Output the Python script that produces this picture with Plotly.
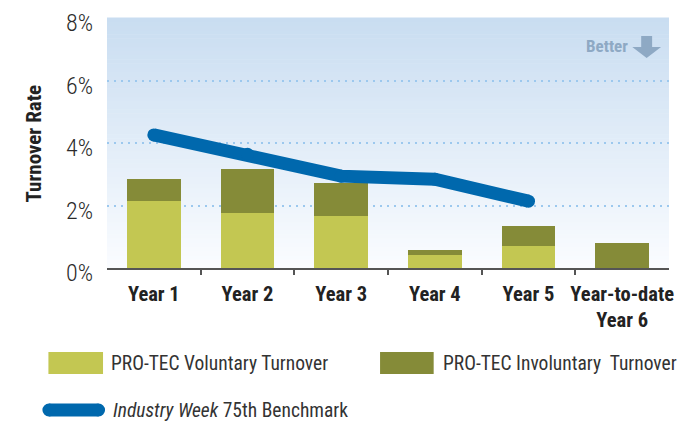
import plotly.graph_objects as go

categories = ["Year 1", "Year 2", "Year 3", "Year 4", "Year 5", "Year-to-date<br>Year 6"]
voluntary = [2.16, 1.75, 1.65, 0.43, 0.69, 0.0]
involuntary = [0.68, 1.41, 1.06, 0.16, 0.67, 0.79]
benchmark = [4.26, 3.64, 2.94, 2.84, 2.14]
y_ticks = [0, 2, 4, 6, 8]
y_tick_labels = ["0%", "2%", "4%", "6%", "8%"]
grid_vals = [2, 4, 6]

W, H = 686, 422
L, R, T, B = 107, 13, 18, 154
PW, PH = W - L - R, H - T - B


def xp(px):
    return (px - L) / PW


def yp(py):
    return (H - B - py) / PH


FONT = "Roboto Condensed, Liberation Sans Narrow, Roboto, sans-serif"
C_VOL = "#c3c752"
C_INV = "#858b38"
C_LINE = "#0068ad"

xs = list(range(len(categories)))

fig = go.Figure()
fig.add_trace(go.Bar(x=xs, y=voluntary, marker=dict(color=C_VOL, line=dict(width=0)), width=0.57,
                     name="PRO-TEC Voluntary Turnover"))
fig.add_trace(go.Bar(x=xs, y=involuntary, marker=dict(color=C_INV, line=dict(width=0)), width=0.57,
                     name="PRO-TEC Involuntary Turnover"))
fig.add_trace(go.Scatter(x=xs[:len(benchmark)], y=benchmark, mode="lines+markers",
                         line=dict(color=C_LINE, width=13),
                         marker=dict(color=C_LINE, size=13, line=dict(width=0)),
                         name="Industry Week 75th Benchmark"))

shapes = []
# vertical gradient background
N = 60
top = (201, 221, 241)
bot = (250, 252, 255)
for i in range(N):
    t = i / (N - 1)
    c = tuple(round(bot[k] + (top[k] - bot[k]) * t) for k in range(3))
    shapes.append(dict(type="rect", xref="paper", yref="paper", x0=0, x1=1,
                       y0=i / N, y1=(i + 1) / N + 0.002, fillcolor="rgb(%d,%d,%d)" % c,
                       line=dict(width=0), layer="below"))

# "Better" arrow
pts = [(645, 36), (656, 36), (656, 47), (665, 47), (650.5, 58), (636, 47), (645, 47)]
path = "M " + " L ".join("%f,%f" % (xp(a), yp(b)) for a, b in pts) + " Z"
shapes.append(dict(type="path", xref="paper", yref="paper", path=path,
                   fillcolor="#8ea9c4", line=dict(width=0)))

# legend swatches
shapes.append(dict(type="rect", xref="paper", yref="paper", x0=xp(48), x1=xp(103), y0=yp(374), y1=yp(352),
                   fillcolor=C_VOL, line=dict(width=0)))
shapes.append(dict(type="rect", xref="paper", yref="paper", x0=xp(382), x1=xp(436), y0=yp(374), y1=yp(352),
                   fillcolor=C_INV, line=dict(width=0)))
shapes.append(dict(type="rect", xref="paper", yref="paper", x0=xp(48.5), x1=xp(98.5), y0=yp(416.5), y1=yp(403.5),
                   fillcolor=C_LINE, line=dict(width=0)))
for cx in (48.5, 98.5):
    shapes.append(dict(type="circle", xref="paper", yref="paper", xsizemode="pixel", ysizemode="pixel",
                       xanchor=xp(cx), yanchor=yp(410), x0=-6.5, x1=6.5, y0=-6.5, y1=6.5,
                       fillcolor=C_LINE, line=dict(width=0)))

annotations = []
for v, lab in zip(y_ticks, y_tick_labels):
    annotations.append(dict(x=0, xref="paper", y=v, yref="y", text=lab, showarrow=False,
                            xanchor="right", yanchor="middle", xshift=-12, yshift=-5,
                            font=dict(family=FONT, size=24, color="#2a2a2a", weight=300)))
annotations.append(dict(x=xp(19), xref="paper", y=yp(144), yref="paper", text="<b>Turnover Rate</b>",
                        textangle=-90, showarrow=False, font=dict(family=FONT, size=21, color="#222")))
annotations.append(dict(x=xp(634), xref="paper", y=yp(46), yref="paper", text="<b>Better</b>",
                        showarrow=False, xanchor="right", yanchor="middle",
                        font=dict(family=FONT, size=17, color="#8ea9c4")))
annotations.append(dict(x=xp(109), xref="paper", y=yp(363), yref="paper", text="PRO-TEC Voluntary Turnover",
                        showarrow=False, xanchor="left", yanchor="middle",
                        font=dict(family=FONT, size=19.5, color="#333")))
annotations.append(dict(x=xp(443), xref="paper", y=yp(363), yref="paper", text="PRO-TEC Involuntary  Turnover",
                        showarrow=False, xanchor="left", yanchor="middle",
                        font=dict(family=FONT, size=19.5, color="#333")))
annotations.append(dict(x=xp(111), xref="paper", y=yp(410), yref="paper",
                        text="<i>Industry Week</i> 75th Benchmark",
                        showarrow=False, xanchor="left", yanchor="middle",
                        font=dict(family=FONT, size=19.5, color="#333")))

fig.update_layout(
    width=W, height=H, margin=dict(l=L, r=R, t=T, b=B, pad=0),
    barmode="stack", showlegend=False,
    paper_bgcolor="white", plot_bgcolor="rgba(0,0,0,0)",
    shapes=shapes, annotations=annotations,
    xaxis=dict(range=[-0.5, len(categories) - 0.5], tickvals=xs, ticktext=["<b>%s</b>" % c for c in categories],
               ticks="", showgrid=False, zeroline=False, showline=True, linecolor="#555", linewidth=2,
               tickfont=dict(family=FONT, size=20.5, color="#222"), ticklabelstandoff=6,
               minor=dict(tickvals=[i + 0.5 for i in xs[:-1]], ticks="outside", ticklen=5, tickcolor="#555",
                          tickwidth=1.5, showgrid=False),
               fixedrange=True),
    yaxis=dict(range=[0, 8], tickvals=y_ticks, showticklabels=False, ticks="", showgrid=False,
               zeroline=False, showline=False,
               minor=dict(tickvals=grid_vals, showgrid=True, gridcolor="#9cc8ee", gridwidth=2,
                          griddash="2px,5px", ticks=""),
               fixedrange=True),
)

fig.write_html("out.html", post_script="document.body.style.margin='0px';", config={"displayModeBar": False})
